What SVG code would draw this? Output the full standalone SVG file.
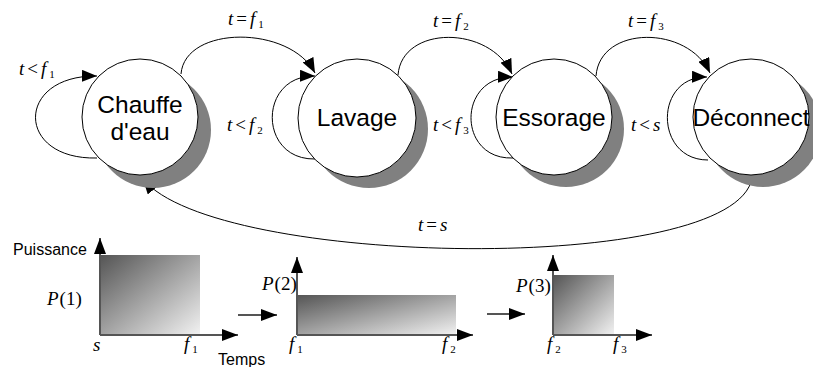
<svg xmlns="http://www.w3.org/2000/svg" width="813" height="367" viewBox="0 0 813 367">
<style>
.shadow{fill:#808080;stroke:none}
.node{fill:#fff;stroke:#000;stroke-width:1}
.lbl{font-family:"Liberation Sans",Arial,sans-serif;font-size:24.5px;fill:#000;text-anchor:middle}
.edge{fill:none;stroke:#000;stroke-width:1}
.math{font-family:"Liberation Serif","Times New Roman",serif;font-size:19px;fill:#000}
.it{font-style:italic}
.sub{font-size:11px}
.axis{stroke:#555;stroke-width:2;fill:none}
.small{font-family:"Liberation Sans",Arial,sans-serif;font-size:16px;fill:#000}
.bar{fill:url(#grad);stroke:none}
</style>
<defs>
<marker id="arr" markerUnits="userSpaceOnUse" markerWidth="16" markerHeight="12" refX="15" refY="6" orient="auto">
<path d="M0,0 L15,6 L0,12 z" fill="#000"/>
</marker>
<marker id="ax" markerUnits="userSpaceOnUse" markerWidth="17" markerHeight="12" refX="16" refY="6" orient="auto">
<path d="M0,0 L16,6 L0,12 z" fill="#000"/>
</marker>
<linearGradient id="grad" x1="0" y1="0" x2="1" y2="1">
<stop offset="0" stop-color="#555555"/>
<stop offset="1" stop-color="#f2f2f2"/>
</linearGradient>
</defs>

<g id="connectors">
<path class="edge" d="M97,158 C15,160 15,75 97,76" marker-end="url(#arr)"/>
<path class="edge" d="M181,74 C185,25 290,25 315,73" marker-end="url(#arr)"/>
<path class="edge" d="M315,159 C258,160 258,75 315,76" marker-end="url(#arr)"/>
<path class="edge" d="M398,75 C402,25 490,25 512,74" marker-end="url(#arr)"/>
<path class="edge" d="M513,158 C457,160 457,76 513,77" marker-end="url(#arr)"/>
<path class="edge" d="M596,76 C600,25 688,25 710,73" marker-end="url(#arr)"/>
<path class="edge" d="M708,160 C654,160 654,76 707,77" marker-end="url(#arr)"/>
<path class="edge" d="M752,178 C735,276 215,268 143,179" marker-end="url(#arr)"/>
</g>

<g id="n-chauffe">
<circle class="shadow" cx="153" cy="130" r="58"/>
<circle class="node" cx="140" cy="117" r="58"/>
<text class="lbl" x="140" y="113">Chauffe</text>
<text class="lbl" x="140" y="140">d'eau</text>
</g>
<g id="n-lavage">
<circle class="shadow" cx="369" cy="129" r="59"/>
<circle class="node" cx="357" cy="118" r="59"/>
<text class="lbl" x="357" y="126">Lavage</text>
</g>
<g id="n-essorage">
<circle class="shadow" cx="566" cy="129" r="58"/>
<circle class="node" cx="554" cy="117" r="58"/>
<text class="lbl" x="554" y="126">Essorage</text>
</g>
<g id="n-deconnect">
<circle class="shadow" cx="763" cy="129" r="58"/>
<circle class="node" cx="751" cy="117" r="58"/>
<text class="lbl" x="751" y="126">Déconnect</text>
</g>

<g id="edge-labels">
<text class="math" x="19" y="75"><tspan class="it">t</tspan><tspan dx="3">&lt;</tspan><tspan class="it" dx="3">f</tspan><tspan class="sub" dx="3" dy="3">1</tspan></text>
<text class="math" x="228" y="25"><tspan class="it">t</tspan><tspan dx="3">=</tspan><tspan class="it" dx="3">f</tspan><tspan class="sub" dx="3" dy="3">1</tspan></text>
<text class="math" x="227" y="131"><tspan class="it">t</tspan><tspan dx="3">&lt;</tspan><tspan class="it" dx="3">f</tspan><tspan class="sub" dx="3" dy="3">2</tspan></text>
<text class="math" x="433" y="27"><tspan class="it">t</tspan><tspan dx="3">=</tspan><tspan class="it" dx="3">f</tspan><tspan class="sub" dx="3" dy="3">2</tspan></text>
<text class="math" x="433" y="131"><tspan class="it">t</tspan><tspan dx="3">&lt;</tspan><tspan class="it" dx="3">f</tspan><tspan class="sub" dx="3" dy="3">3</tspan></text>
<text class="math" x="628" y="27"><tspan class="it">t</tspan><tspan dx="3">=</tspan><tspan class="it" dx="3">f</tspan><tspan class="sub" dx="3" dy="3">3</tspan></text>
<text class="math" x="631" y="131"><tspan class="it">t</tspan><tspan dx="3">&lt;</tspan><tspan class="it" dx="3">s</tspan></text>
<text class="math" x="418" y="231"><tspan class="it">t</tspan><tspan dx="3">=</tspan><tspan class="it" dx="3">s</tspan></text>
</g>

<g id="chart1">
<rect class="bar" x="101" y="255" width="99" height="80"/>
<line class="axis" x1="100" y1="335" x2="100" y2="238" marker-end="url(#ax)"/>
<line class="axis" x1="100" y1="335" x2="238" y2="335" marker-end="url(#ax)"/>
<text class="small" x="13" y="255">Puissance</text>
<text class="math" x="47" y="305"><tspan class="it">P</tspan><tspan dx="1">(1)</tspan></text>
<text class="math" x="93" y="351"><tspan class="it">s</tspan></text>
<text class="math" x="184" y="350"><tspan class="it">f</tspan><tspan class="sub" dx="3" dy="3">1</tspan></text>
<text class="small" x="218" y="365">Temps</text>
</g>
<g id="chart2">
<rect class="bar" x="298" y="295" width="158" height="40"/>
<line class="axis" x1="297" y1="335" x2="297" y2="257" marker-end="url(#ax)"/>
<line class="axis" x1="297" y1="335" x2="473" y2="335" marker-end="url(#ax)"/>
<text class="math" x="262" y="290"><tspan class="it">P</tspan><tspan dx="1">(2)</tspan></text>
<text class="math" x="289" y="350"><tspan class="it">f</tspan><tspan class="sub" dx="3" dy="3">1</tspan></text>
<text class="math" x="442" y="350"><tspan class="it">f</tspan><tspan class="sub" dx="3" dy="3">2</tspan></text>
</g>
<g id="chart3">
<rect class="bar" x="554" y="275" width="60" height="60"/>
<line class="axis" x1="553" y1="335" x2="553" y2="255" marker-end="url(#ax)"/>
<line class="axis" x1="553" y1="335" x2="652" y2="335" marker-end="url(#ax)"/>
<text class="math" x="516" y="292"><tspan class="it">P</tspan><tspan dx="1">(3)</tspan></text>
<text class="math" x="547" y="350"><tspan class="it">f</tspan><tspan class="sub" dx="3" dy="3">2</tspan></text>
<text class="math" x="613" y="350"><tspan class="it">f</tspan><tspan class="sub" dx="3" dy="3">3</tspan></text>
</g>
<g id="chart-arrows">
<line class="axis" x1="238" y1="315" x2="277" y2="315" marker-end="url(#ax)"/>
<line class="axis" x1="487" y1="314" x2="525" y2="314" marker-end="url(#ax)"/>
</g>
</svg>
